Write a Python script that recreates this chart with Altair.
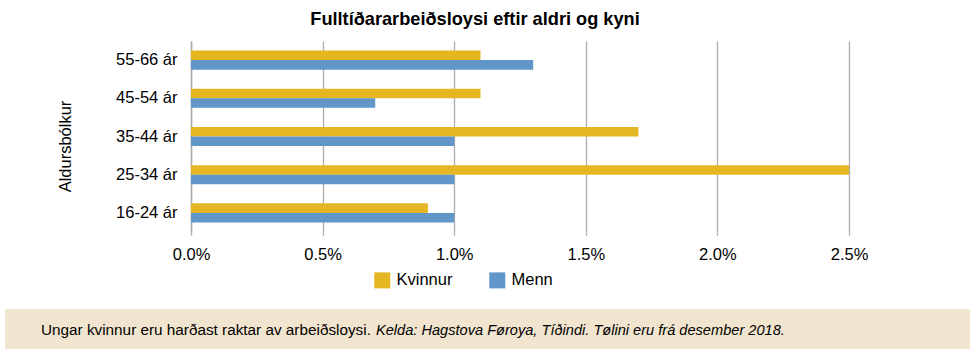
import altair as alt
import pandas as pd

age_groups = ["55-66 ár", "45-54 ár", "35-44 ár", "25-34 ár", "16-24 ár"]
kvinnur = [1.1, 1.1, 1.7, 2.5, 0.9]   # percent
menn = [1.3, 0.7, 1.0, 1.0, 1.0]       # percent
series = ["Kvinnur", "Menn"]
colors = ["#E3B622", "#6196C9"]
x_ticks = [0.0, 0.005, 0.01, 0.015, 0.02, 0.025]

title_text = "Fulltíðararbeiðsloysi eftir aldri og kyni"
caption_regular = "Ungar kvinnur eru harðast raktar av arbeiðsloysi."
caption_italic = "Kelda: Hagstova Føroya, Tíðindi. Tølini eru frá desember 2018."

rows = []
for g, k, m in zip(age_groups, kvinnur, menn):
    rows.append({"group": g, "series": "Kvinnur", "value": k / 100})
    rows.append({"group": g, "series": "Menn", "value": m / 100})
df = pd.DataFrame(rows)

FONT = "Liberation Sans"

bars = alt.Chart(df).mark_bar().encode(
    y=alt.Y("group:N", sort=age_groups,
            scale=alt.Scale(paddingInner=0.5, paddingOuter=0.25),
            axis=alt.Axis(title="Aldursbólkur", titleFontWeight="normal",
                          titleFontSize=16.5, titleFont=FONT, titleColor="#000",
                          titleAngle=270, titleX=-121, titleY=105,
                          titleAlign="center", titleBaseline="alphabetic",
                          labelFontSize=16.5, labelFont=FONT, labelColor="#000",
                          labelPadding=14, ticks=False, grid=False,
                          domain=True, domainColor="#ababab", domainWidth=1.5)),
    yOffset=alt.YOffset("series:N", sort=series, scale=alt.Scale(paddingInner=0, paddingOuter=0)),
    x=alt.X("value:Q", scale=alt.Scale(domain=[0, 0.025], nice=False),
            axis=alt.Axis(title=None, format=".1%", values=x_ticks,
                          labelFontSize=16.5, labelFont=FONT, labelColor="#000",
                          labelFlush=False, labelOverlap=False,
                          grid=True, gridColor="#ababab", gridWidth=1.3,
                          ticks=True, tickColor="#ababab", tickSize=3, tickWidth=1.3,
                          labelPadding=11, domain=False)),
    color=alt.Color("series:N", sort=series,
                    scale=alt.Scale(domain=series, range=colors),
                    legend=alt.Legend(title=None, orient="none", legendX=183, legendY=231,
                                      direction="horizontal", symbolType="square",
                                      symbolSize=256, symbolStrokeWidth=0,
                                      labelFontSize=16.5, labelFont=FONT, labelColor="#000",
                                      labelOffset=6, columnPadding=36)),
)

one = alt.Data(values=[{"a": 1}])

title = alt.Chart(one).mark_text(
    text=title_text, font=FONT, fontSize=18.2, fontWeight="bold",
    align="center", baseline="alphabetic", color="#000"
).encode(x=alt.value(284), y=alt.value(-16.5))

box = alt.Chart(one).mark_rect(color="#F2E5CF").encode(
    x=alt.value(-186), x2=alt.value(779), y=alt.value(268), y2=alt.value(308)
)

cap1 = alt.Chart(one).mark_text(
    text=caption_regular, font=FONT, fontSize=15.3, align="left",
    baseline="alphabetic", color="#000"
).encode(x=alt.value(-150), y=alt.value(294))

cap2 = alt.Chart(one).mark_text(
    text=caption_italic, font=FONT, fontSize=14.6, fontStyle="italic", align="left",
    baseline="alphabetic", color="#000"
).encode(x=alt.value(185), y=alt.value(294))

chart = alt.layer(box, bars, title, cap1, cap2).properties(
    width=658, height=191, background="white",
    padding={"left": 191, "top": 41, "right": 126, "bottom": 123},
    autosize=alt.AutoSizeParams(type="none"),
).configure_view(stroke=None, strokeWidth=0)

chart.save("out.html", embed_options={"renderer": "svg", "actions": False})
